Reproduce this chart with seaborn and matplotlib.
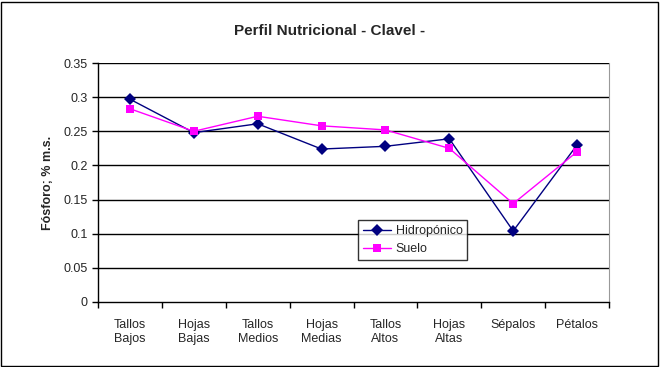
import pandas as pd
import seaborn as sns
import matplotlib.pyplot as plt
from matplotlib.patches import Rectangle

# datos
partes = ["Tallos\nBajos", "Hojas\nBajas", "Tallos\nMedios", "Hojas\nMedias",
          "Tallos\nAltos", "Hojas\nAltas", "Sépalos", "Pétalos"]
hidroponico = [0.297, 0.248, 0.261, 0.224, 0.228, 0.239, 0.104, 0.230]
suelo = [0.283, 0.250, 0.272, 0.258, 0.252, 0.225, 0.144, 0.220]

df = pd.DataFrame({
    "parte": partes * 2,
    "fosforo": hidroponico + suelo,
    "serie": ["Hidropónico"] * len(partes) + ["Suelo"] * len(partes),
})

sns.set_style("white")
plt.rcParams["font.family"] = ["Liberation Sans", "DejaVu Sans"]

fig = plt.figure(figsize=(6.6, 3.67), dpi=100)
ax = fig.add_axes([98 / 660, 65 / 367, 511 / 660, 239 / 367])

sns.lineplot(data=df, x="parte", y="fosforo", hue="serie", style="serie",
             palette={"Hidropónico": "#000080", "Suelo": "#ff00ff"},
             markers={"Hidropónico": "D", "Suelo": "s"},
             dashes=False, sort=False, linewidth=1.0, markersize=6,
             markeredgewidth=0, ax=ax)

ax.set_ylim(0, 0.35)
ax.set_xlim(-0.5, len(partes) - 0.5)
ax.set_yticks([i * 0.05 for i in range(8)])
ax.set_yticklabels(["0", "0.05", "0.1", "0.15", "0.2", "0.25", "0.3", "0.35"])
for y in ax.get_yticks()[1:]:
    ax.axhline(y, color="black", linewidth=1, zorder=0)

ax.set_xticks(range(len(partes)))
ax.set_xticklabels(partes, linespacing=1.3)
ax.set_xticks([i + 0.5 for i in range(-1, len(partes))], minor=True)
ax.tick_params(axis="x", which="major", length=0, pad=12, labelsize=9)
ax.tick_params(axis="x", which="minor", length=4, width=1, color="black", direction="out", bottom=True)
ax.tick_params(axis="y", length=4, width=1, color="black", direction="out", left=True, labelsize=9)

for side in ["left", "bottom"]:
    ax.spines[side].set_color("black")
    ax.spines[side].set_linewidth(1)
ax.spines["right"].set_color("#999999")
ax.spines["top"].set_visible(False)

ax.set_xlabel("")
ax.set_ylabel("Fósforo; % m.s.", fontsize=9, fontweight="bold", labelpad=7)
fig.text(0.5, 0.915, "Perfil Nutricional - Clavel -", ha="center", va="center",
         fontsize=11, fontweight="bold")

leg = ax.legend(loc="upper left", bbox_to_anchor=(260 / 511, 82 / 239),
                borderaxespad=0, frameon=True, fancybox=False, fontsize=9,
                handlelength=2.2, handletextpad=0.4,
                borderpad=0.4, labelspacing=0.5)
leg.get_frame().set_edgecolor("black")
leg.get_frame().set_linewidth(1)

fig.patches.append(Rectangle((1 / 660, 1 / 367), 657 / 660, 364 / 367,
                             transform=fig.transFigure, fill=False,
                             edgecolor="black", linewidth=1))

fig.savefig("out.png", dpi=100)
